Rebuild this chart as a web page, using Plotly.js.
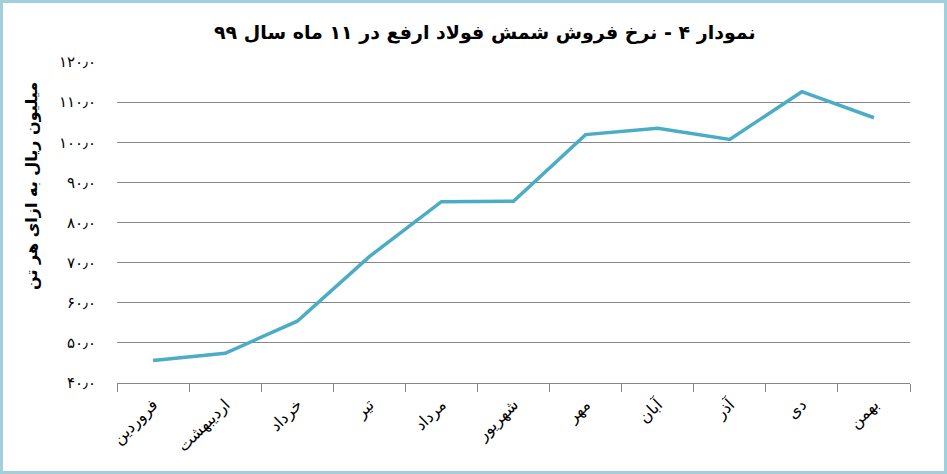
<!DOCTYPE html>
<html>
<head>
<meta charset="utf-8">
<script src="https://cdn.plot.ly/plotly-3.0.1.min.js"></script>
<style>
html,body{margin:0;padding:0;background:#fff;}
#wrap{width:947px;height:474px;box-sizing:border-box;border:3px solid #9fd0dc;position:relative;overflow:hidden;}
#chart{position:absolute;left:-3px;top:-3px;width:947px;height:474px;}
</style>
</head>
<body>
<div id="wrap"><div id="chart"></div></div>
<script>
const months = ["فروردین","اردیبهشت","خرداد","تیر","مرداد","شهریور","مهر","آبان","آذر","دی","بهمن"];
const prices = [45.6, 47.4, 55.4, 71.5, 85.2, 85.3, 101.9, 103.5, 100.7, 112.6, 106.1];
const yTickVals = [40, 50, 60, 70, 80, 90, 100, 110, 120];
const yTickText = ["۴۰٫۰","۵۰٫۰","۶۰٫۰","۷۰٫۰","۸۰٫۰","۹۰٫۰","۱۰۰٫۰","۱۱۰٫۰","۱۲۰٫۰"];
const chartTitle = "نمودار ۴ - نرخ فروش شمش فولاد ارفع در ۱۱ ماه سال ۹۹";
const yTitle = "میلیون ریال به ازای هر تن";

const trace = {
  type: "scatter",
  mode: "lines",
  x: months,
  y: prices,
  line: {color: "#4bacc6", width: 3.5},
  hoverinfo: "skip"
};

const layout = {
  width: 947,
  height: 474,
  margin: {l: 117, r: 37, t: 62, b: 91},
  paper_bgcolor: "#ffffff",
  plot_bgcolor: "#ffffff",
  showlegend: false,
  font: {family: "DejaVu Sans, sans-serif", color: "#000"},
  title: {
    text: "<b>" + chartTitle + "</b>",
    font: {family: "DejaVu Sans, sans-serif", size: 19, color: "#000"},
    x: 0.512, xanchor: "center", y: 0.932, yanchor: "middle"
  },
  xaxis: {
    type: "category",
    tickangle: -45,
    tickson: "boundaries",
    ticks: "outside",
    ticklen: 8,
    tickcolor: "#868686",
    showline: true,
    linecolor: "#868686",
    linewidth: 1,
    showgrid: false,
    ticklabelstandoff: 5,
    tickfont: {family: "DejaVu Sans, sans-serif", size: 16, color: "#000"},
    range: [-0.5, 10.5],
    fixedrange: true
  },
  yaxis: {
    range: [40, 120],
    tickvals: yTickVals,
    ticktext: yTickText,
    showgrid: true,
    gridcolor: "#868686",
    gridwidth: 1,
    zeroline: false,
    showline: false,
    ticks: "",
    ticklabelstandoff: 20,
    tickfont: {family: "DejaVu Sans, sans-serif", size: 15, color: "#000"},
    fixedrange: true
  },
  annotations: [{
    text: "<b>" + yTitle + "</b>",
    textangle: -90,
    xref: "paper", yref: "paper",
    x: -0.108, y: 0.615,
    xanchor: "center", yanchor: "middle",
    showarrow: false,
    font: {family: "DejaVu Sans, sans-serif", size: 16, color: "#000"}
  }]
};

Plotly.newPlot("chart", [trace], layout, {displayModeBar: false, staticPlot: true});
</script>
</body>
</html>
